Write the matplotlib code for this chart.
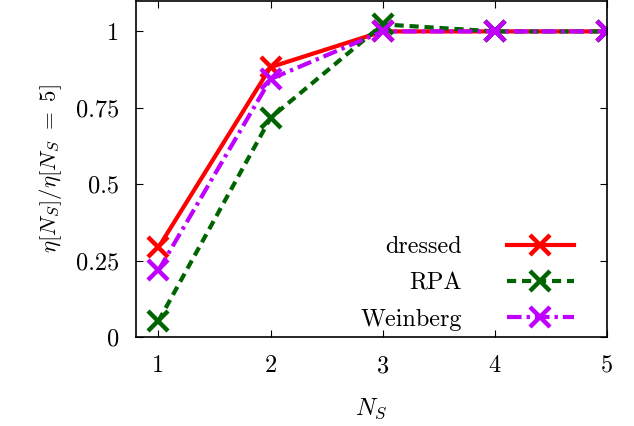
import matplotlib
matplotlib.use("Agg")
import matplotlib.pyplot as plt

plt.rcParams["font.family"] = "serif"
plt.rcParams["font.serif"] = ["cmr10"]
plt.rcParams["mathtext.fontset"] = "cm"
plt.rcParams["axes.formatter.use_mathtext"] = True

n_s = [1, 2, 3, 4, 5]
dressed = [0.293, 0.883, 1.0, 1.0, 1.0]
rpa = [0.052, 0.717, 1.023, 1.0, 1.0]
weinberg = [0.218, 0.844, 1.0, 1.0, 1.0]

xticks = [1, 2, 3, 4, 5]
yticks = [0, 0.25, 0.5, 0.75, 1]
ytick_labels = ["0", "0.25", "0.5", "0.75", "1"]

fig = plt.figure(figsize=(6.34, 4.26), dpi=100)
ax = fig.add_axes([136 / 634, 1 - 337 / 426, 471 / 634, 337 / 426 - 0.002])

common = dict(marker="x", markersize=14.5, markeredgewidth=3.2, linewidth=3)
ax.plot(n_s, dressed, color="#ff0000", linestyle="-", label="dressed", **common)
ax.plot(n_s, rpa, color="#006400", linestyle=(0, (2.2, 1.4)), label="RPA", **common)
ax.plot(n_s, weinberg, color="#c000ff", linestyle=(0, (3.5, 1.2, 0.8, 1.2)),
        label="Weinberg", **common)

ax.set_xlim(0.8, 5.0)
ax.set_ylim(0, 1.1)
ax.set_xticks(xticks)
ax.set_xticklabels([str(v) for v in xticks])
ax.set_yticks(yticks)
ax.set_yticklabels(ytick_labels)
ax.tick_params(direction="in", top=True, right=True, length=5, width=0.8,
               labelsize=17.5)
ax.tick_params(axis="x", pad=13)
ax.tick_params(axis="y", pad=12)
for s in ax.spines.values():
    s.set_linewidth(1.2)

ax.set_xlabel(r"$N_S$", fontsize=17.5, labelpad=14)
ax.set_ylabel(r"$\eta[N_S]/\eta[N_S\ =\ 5]$", fontsize=16.5, labelpad=9)

leg = ax.legend(loc="lower right", frameon=False, markerfirst=False,
                fontsize=17.5, handlelength=2.75, handletextpad=1.85,
                labelspacing=0.58, borderaxespad=0.0,
                bbox_to_anchor=(0.95, -0.01))
for t in leg.get_texts():
    t.set_ha("right")

fig.savefig("out.png", dpi=100)
